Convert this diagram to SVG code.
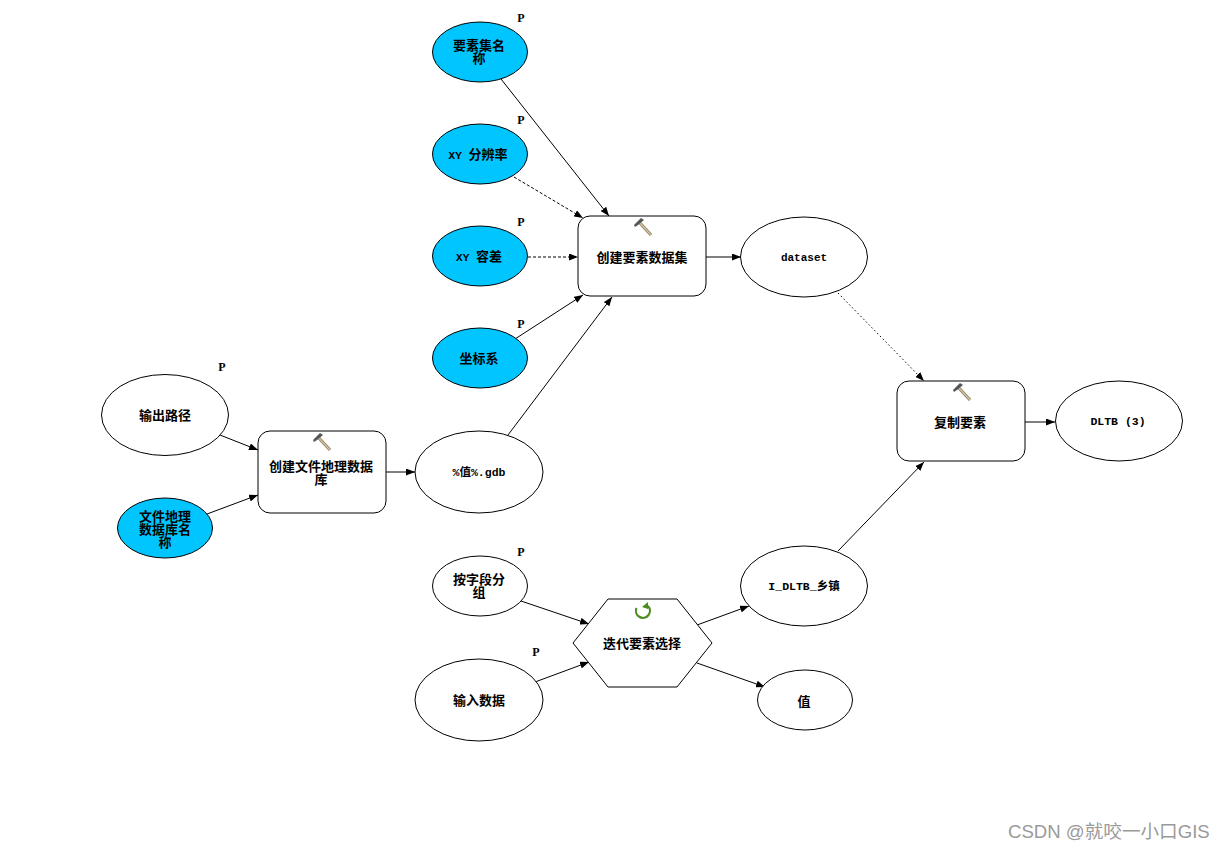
<svg xmlns="http://www.w3.org/2000/svg" xmlns:xlink="http://www.w3.org/1999/xlink" width="1225" height="851" viewBox="0 0 1225 851">
<style>
.n{stroke:#000;stroke-width:1;fill:#fff}
.b{fill:#00c5ff}
.t{font-family:"Liberation Mono","Noto Sans CJK SC",monospace;font-weight:700;font-size:13px;text-anchor:middle;fill:#000}
.l{font-size:11px}
.m{font-size:11.5px}
.p{font-family:"Liberation Serif",serif;font-weight:700;font-size:12px;text-anchor:middle;fill:#000}
.c{fill:none;stroke:#000;stroke-width:1;marker-end:url(#a)}
.d{stroke-dasharray:3 2}
.o{stroke-dasharray:1.5 2.5}
</style>
<defs>
<marker id="a" viewBox="0 0 9 7" refX="9" refY="3.500" markerWidth="9" markerHeight="7" markerUnits="userSpaceOnUse" orient="auto"><path d="M0,0L9,3.500L0,7z" fill="#000"/></marker>
<g id="h">
<path d="M-3,-5L9,8" stroke="#8a7a5c" stroke-width="3" fill="none"/>
<path d="M-3,-5L9,8" stroke="#d9c9a8" stroke-width="1.200" fill="none"/>
<path d="M-8,-2L-1,-9L2,-7L-4,-2L-7,0z" fill="#555"/>
</g>
</defs>
<rect width="1225" height="851" fill="#fff"/>
<g id="connectors">
<path class="c" d="M501,79L609,216"/>
<path class="c d" d="M514,177L583,218"/>
<path class="c d" d="M528,257L578,257"/>
<path class="c" d="M515,339L583,295"/>
<path class="c" d="M508,435L612,297"/>
<path class="c" d="M706,257L741,257"/>
<path class="c o" d="M838,293L924,381"/>
<path class="c" d="M220,435L258,450"/>
<path class="c" d="M207,514L258,495"/>
<path class="c" d="M386,472L415,472"/>
<path class="c" d="M521,601L589,624"/>
<path class="c" d="M535,682L589,662"/>
<path class="c" d="M697,625L749,606"/>
<path class="c" d="M697,663L765,687"/>
<path class="c" d="M838,551L924,462"/>
<path class="c" d="M1025,422L1055,422"/>
</g>
<g id="n1"><ellipse class="n b" cx="480" cy="52" rx="47.500" ry="30"/><text class="t" x="479" y="50">要素集名</text><text class="t" x="479" y="63">称</text><text class="p" x="521" y="22">P</text></g>
<g id="n2"><ellipse class="n b" cx="480" cy="154" rx="47.500" ry="30"/><text class="t" x="478" y="159"><tspan class="l">XY </tspan>分辨率</text><text class="p" x="521" y="124">P</text></g>
<g id="n3"><ellipse class="n b" cx="480" cy="256" rx="47.500" ry="30"/><text class="t" x="479" y="261"><tspan class="l">XY </tspan>容差</text><text class="p" x="521" y="226">P</text></g>
<g id="n4"><ellipse class="n b" cx="480" cy="358" rx="47.500" ry="30"/><text class="t" x="479" y="363">坐标系</text><text class="p" x="521" y="328">P</text></g>
<g id="n5"><rect class="n" x="578" y="216" width="128" height="80" rx="12"/><use xlink:href="#h" x="642" y="227"/><text class="t" x="642" y="262">创建要素数据集</text></g>
<g id="n6"><ellipse class="n" cx="804" cy="257" rx="63.500" ry="40"/><text class="t l" x="804" y="261">dataset</text></g>
<g id="n7"><ellipse class="n" cx="165" cy="415" rx="63.500" ry="40.500"/><text class="t" x="165" y="420">输出路径</text><text class="p" x="222" y="371">P</text></g>
<g id="n8"><ellipse class="n b" cx="165" cy="528" rx="47.500" ry="30"/><text class="t" x="165" y="521">文件地理</text><text class="t" x="165" y="534">数据库名</text><text class="t" x="165" y="547">称</text></g>
<g id="n9"><rect class="n" x="258" y="431" width="128" height="82" rx="12"/><use xlink:href="#h" x="321" y="442"/><text class="t" x="321" y="471">创建文件地理数据</text><text class="t" x="321" y="484">库</text></g>
<g id="n10"><ellipse class="n" cx="479" cy="472" rx="64" ry="41"/><text class="t m" x="479" y="476">%值%.gdb</text></g>
<g id="n11"><ellipse class="n" cx="480" cy="586" rx="47.500" ry="30"/><text class="t" x="479" y="584">按字段分</text><text class="t" x="479" y="597">组</text><text class="p" x="521" y="556">P</text></g>
<g id="n12"><ellipse class="n" cx="479" cy="700" rx="64" ry="41"/><text class="t" x="479" y="705">输入数据</text><text class="p" x="536" y="656">P</text></g>
<g id="n13"><polygon class="n" points="573,643 608,599 677,599 712,643 677,687 608,687"/><path d="M636.500,608A7,7 0 1 0 648,606" fill="none" stroke="#4c8c1e" stroke-width="2.200"/><path d="M648,602L648,609L642,607z" fill="#4c8c1e"/><text class="t" x="642" y="648">迭代要素选择</text></g>
<g id="n14"><ellipse class="n" cx="804" cy="586" rx="63.500" ry="40"/><text class="t m" x="804" y="590">I_DLTB_乡镇</text></g>
<g id="n15"><ellipse class="n" cx="805" cy="700" rx="47.500" ry="30"/><text class="t" x="804" y="706">值</text></g>
<g id="n16"><rect class="n" x="897" y="381" width="128" height="80" rx="12"/><use xlink:href="#h" x="961" y="392"/><text class="t" x="960" y="427">复制要素</text></g>
<g id="n17"><ellipse class="n" cx="1119" cy="421" rx="63.500" ry="40"/><text class="t m" x="1118" y="425">DLTB (3)</text></g>
<text id="watermark" x="1008" y="838" style="font-family:'Liberation Sans','Noto Sans CJK SC',sans-serif;font-size:18.600px;fill:#9a9a9a">CSDN @就咬一小口GIS</text>
</svg>
